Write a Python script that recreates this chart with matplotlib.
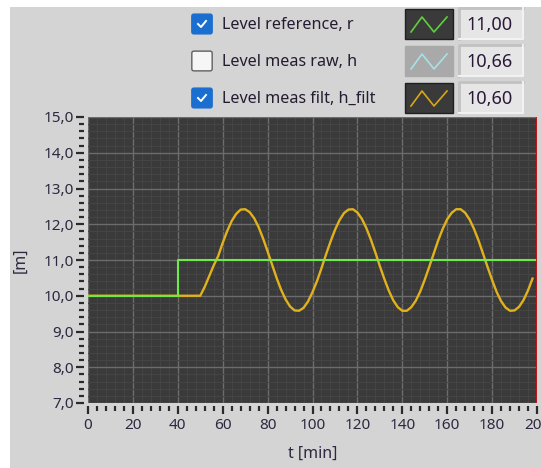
import matplotlib
matplotlib.use("Agg")
import matplotlib.pyplot as plt
from matplotlib.patches import Rectangle, FancyBboxPatch
from matplotlib.ticker import MultipleLocator, FuncFormatter

# ---------------- data ----------------
ref_t = [0, 40, 40, 200]
ref_v = [10.0, 10.0, 11.0, 11.0]

filt_t = [0, 40, 50, 52, 54, 56,
          58, 60, 62, 64, 66, 68, 70, 72, 74, 76, 78, 80, 82, 84, 86, 88, 90, 92,
          94, 96, 98, 100, 102, 104, 106, 108, 110, 112, 114, 116, 118, 120, 122, 124,
          126, 128, 130, 132, 134, 136, 138, 140, 142, 144, 146, 148, 150, 152, 154, 156,
          158, 160, 162, 164, 166, 168, 170, 172, 174, 176, 178, 180, 182, 184, 186, 188,
          190, 192, 194, 196, 198]
filt_v = [10.00, 10.00, 10.00, 10.25, 10.55, 10.85,
          11.11, 11.48, 11.81, 12.09, 12.29, 12.41, 12.42, 12.34, 12.17, 11.92, 11.60, 11.24,
          10.87, 10.50, 10.17, 9.90, 9.70, 9.59, 9.58, 9.66, 9.84, 10.10, 10.41, 10.77,
          11.15, 11.51, 11.84, 12.11, 12.31, 12.41, 12.42, 12.33, 12.15, 11.89, 11.57, 11.21,
          10.83, 10.47, 10.14, 9.87, 9.68, 9.58, 9.58, 9.68, 9.86, 10.12, 10.45, 10.81,
          11.18, 11.55, 11.87, 12.14, 12.32, 12.42, 12.42, 12.32, 12.13, 11.86, 11.54, 11.17,
          10.80, 10.44, 10.11, 9.85, 9.67, 9.58, 9.59, 9.69, 9.88, 10.15, 10.48]

legend_labels = ["Level reference, r", "Level meas raw, h", "Level meas filt, h_filt"]
legend_checked = [True, False, True]
legend_values = ["11,00", "10,66", "10,60"]
legend_colors = ["#5fd03c", "#a8e0e8", "#d8a818"]
legend_bg = ["#3a3a3a", "#a9a9a9", "#3a3a3a"]

x_label = "t [min]"
y_label = "[m]"

# ---------------- figure ----------------
W, H = 541, 468
FONT = "Noto Sans"
plt.rcParams['font.family'] = [FONT, 'DejaVu Sans']
fig = plt.figure(figsize=(W / 100, H / 100), dpi=100)
fig.patch.set_facecolor("white")

def fx(x):
    return x / W

def fy(y):
    return 1 - y / H

# grey panel (white strip on top and left)
fig.patches.append(Rectangle((fx(10), 0), 1, fy(7), transform=fig.transFigure,
                             facecolor="#d4d4d4", edgecolor="none", zorder=-5))

# plot area
left, right, top, bottom = 88, 537, 117, 403
ax = fig.add_axes([fx(left), fy(bottom), fx(right - left), (bottom - top) / H])
ax.set_zorder(2)
ax.set_facecolor("#3a3a3a")

ax.plot(filt_t, filt_v, color="#e2b21c", lw=1.7, zorder=3, solid_joinstyle="round")
ax.plot(ref_t, ref_v, color="#6ee84a", lw=1.5, zorder=4)
ax.axvline(200, color="#cc1010", lw=2.0, zorder=5)

ax.set_xlim(0, 200)
ax.set_ylim(7, 15)
ax.xaxis.set_major_locator(MultipleLocator(20))
ax.xaxis.set_minor_locator(MultipleLocator(4))
ax.yaxis.set_major_locator(MultipleLocator(1))
ax.yaxis.set_minor_locator(MultipleLocator(0.2))
ax.yaxis.set_major_formatter(FuncFormatter(lambda v, p: f"{v:.1f}".replace(".", ",")))
ax.xaxis.set_major_formatter(FuncFormatter(lambda v, p: f"{v:.0f}"))

ax.grid(which="major", color="#6c6c6c", lw=1.0)
ax.grid(which="minor", color="#444444", lw=0.8)
ax.set_axisbelow(True)

for s in ax.spines.values():
    s.set_visible(False)
ax.spines['left'].set_position(('outward', 3))
ax.spines['bottom'].set_position(('outward', 2))

ax.tick_params(axis="both", which="major", direction="out", length=6, width=1.6,
               color="#2a2a2a", labelsize=11, labelcolor="#2e2840", pad=1)
ax.tick_params(axis="both", which="minor", direction="out", length=3.5, width=1.6,
               color="#2a2a2a")
ax.tick_params(axis="x", which="major", pad=3)

ax.set_xlabel(x_label, fontsize=11.5, color="#2e2840", labelpad=9)
ax.set_ylabel(y_label, fontsize=11.5, color="#2e2840", labelpad=11)

# ---------------- legend panel ----------------
rows_y = [24, 61, 98]
for i, (lab, chk, val, col, bg) in enumerate(zip(legend_labels, legend_checked,
                                                  legend_values, legend_colors, legend_bg)):
    cy = rows_y[i]
    # checkbox
    bx0, bsz = 192, 20
    if chk:
        fig.patches.append(FancyBboxPatch((fx(bx0 + 2), fy(cy + 8)), fx(bsz - 4), (bsz - 4) / H,
                                          boxstyle="round,pad=0.004", transform=fig.transFigure,
                                          facecolor="#1a6ed0", edgecolor="#1a6ed0", zorder=2))
        fig.lines.append(plt.Line2D([fx(bx0 + 6), fx(bx0 + 9), fx(bx0 + 14)],
                                    [fy(cy), fy(cy + 3), fy(cy - 3)],
                                    transform=fig.transFigure, color="white", lw=1.4, zorder=3))
    else:
        fig.patches.append(FancyBboxPatch((fx(bx0 + 2), fy(cy + 8)), fx(bsz - 4), (bsz - 4) / H,
                                          boxstyle="round,pad=0.004", transform=fig.transFigure,
                                          facecolor="#f6f6f6", edgecolor="#606060", lw=1.0, zorder=2))
    fig.text(fx(222), fy(cy + 1), lab, fontsize=11.6, color="#241c30", va="center", ha="left")

    # swatch
    sx0, sx1 = 405, 453
    fig.patches.append(Rectangle((fx(sx0), fy(cy + 15)), fx(sx1 - sx0), 30 / H,
                                 transform=fig.transFigure, facecolor=bg,
                                 edgecolor="#202020" if bg != "#a9a9a9" else "#a9a9a9",
                                 lw=1.0, zorder=2))
    zx = [sx0 + 6, sx0 + 17, sx0 + 29, sx0 + 42]
    zy = [cy + 8, cy - 7, cy + 8, cy - 7]
    fig.lines.append(plt.Line2D([fx(v) for v in zx], [fy(v) for v in zy],
                                transform=fig.transFigure, color=col, lw=1.2, zorder=3))

    # numeric box with 3D border
    nx0, nx1 = 459, 523
    fig.patches.append(Rectangle((fx(nx0), fy(cy + 15)), fx(nx1 - nx0), 31 / H,
                                 transform=fig.transFigure, facecolor="#e6e6e6",
                                 edgecolor="none", zorder=2))
    fig.lines.append(plt.Line2D([fx(nx0), fx(nx0), fx(nx1)],
                                [fy(cy + 15), fy(cy - 16), fy(cy - 16)],
                                transform=fig.transFigure, color="#c2c2c2", lw=2.0, zorder=3))
    fig.lines.append(plt.Line2D([fx(nx0), fx(nx1), fx(nx1)],
                                [fy(cy + 15), fy(cy + 15), fy(cy - 16)],
                                transform=fig.transFigure, color="#f2f2f2", lw=1.5, zorder=3))
    fig.text(fx(466), fy(cy + 1), val, fontsize=13, color="#2a1838", va="center", ha="left")

fig.savefig("out.png", dpi=100, facecolor=fig.get_facecolor())
